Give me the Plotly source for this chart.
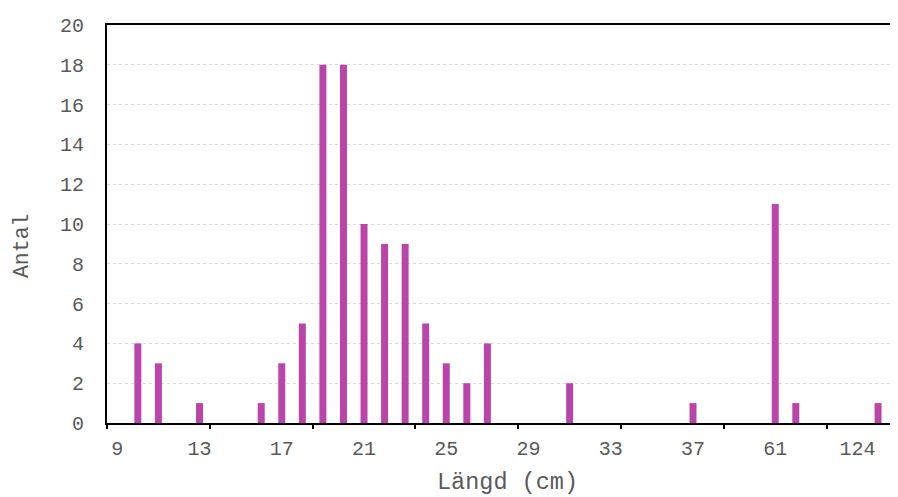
import plotly.graph_objects as go

# Length categories (cm) shown on the category axis
categories = ["9", "10", "11", "12", "13", "14", "15", "16", "17", "18",
              "19", "20", "21", "22", "23", "24", "25", "26", "27", "28",
              "29", "30", "31", "32", "33", "34", "35", "36", "37", "38",
              "40", "50", "61", "62", "75", "100", "124", "125"]
# Count per category
counts = [0, 4, 3, 0, 1, 0, 0, 1, 3, 5,
          18, 18, 10, 9, 9, 5, 3, 2, 4, 0,
          0, 0, 2, 0, 0, 0, 0, 0, 1, 0,
          0, 0, 11, 1, 0, 0, 0, 1]
# Labelled categories
label_cats = categories[::4]
# Tick marks sit on category boundaries every 5 categories
tick_pos = [i - 0.5 for i in range(0, len(categories), 5)]
y_ticks = list(range(0, 21, 2))
x_title = "Längd (cm)"
y_title = "Antal"

FONT = "Courier New, Liberation Mono, monospace"
TXT = "#595959"
BAR = "#BB44AA"

x_range = [-0.5, 37.97]

fig = go.Figure()
fig.add_trace(go.Bar(x=categories, y=counts, marker=dict(color=BAR, line=dict(width=0)),
                     showlegend=False))
fig.add_trace(go.Scatter(x=[tick_pos[0]], y=[0], xaxis="x2", mode="markers",
                         marker=dict(opacity=0), showlegend=False, hoverinfo="skip"))

fig.update_layout(
    width=890, height=489,
    margin=dict(l=99, r=0, t=17, b=74, autoexpand=False),
    paper_bgcolor="white", plot_bgcolor="white",
    bargap=0.66,
    font=dict(family=FONT, color=TXT, size=20),
    xaxis=dict(type="category", categoryorder="array", categoryarray=categories,
               range=x_range, tickmode="array", tickvals=label_cats, automargin=False,
               ticks="", showgrid=False, showline=True, linecolor="black",
               linewidth=2, mirror=True, ticklabelstandoff=6,
               tickfont=dict(family=FONT, size=20, color=TXT)),
    xaxis2=dict(overlaying="x", anchor="y", side="bottom", range=x_range, automargin=False,
                tickmode="array", tickvals=tick_pos, ticks="outside", ticklen=5,
                tickwidth=2, tickcolor="black", showticklabels=False,
                showgrid=False, showline=False, zeroline=False),
    yaxis=dict(range=[0, 20], tickmode="array", tickvals=y_ticks, ticks="", automargin=False,
               showgrid=True, gridcolor="#d9d9d9", griddash="dot", gridwidth=1,
               showline=True, linecolor="black", linewidth=2, zeroline=False,
               ticklabelstandoff=17,
               tickfont=dict(family=FONT, size=20, color=TXT)),
    annotations=[
        dict(text=x_title, xref="paper", yref="paper", x=0.506, y=-0.150,
             xanchor="center", yanchor="middle", showarrow=False,
             font=dict(family=FONT, size=23.5, color=TXT)),
        dict(text=y_title, xref="paper", yref="paper", x=-0.1075, y=0.447,
             xanchor="center", yanchor="middle", textangle=-90, showarrow=False,
             font=dict(family=FONT, size=21.5, color=TXT)),
    ],
)

fig.write_html("out.html")
